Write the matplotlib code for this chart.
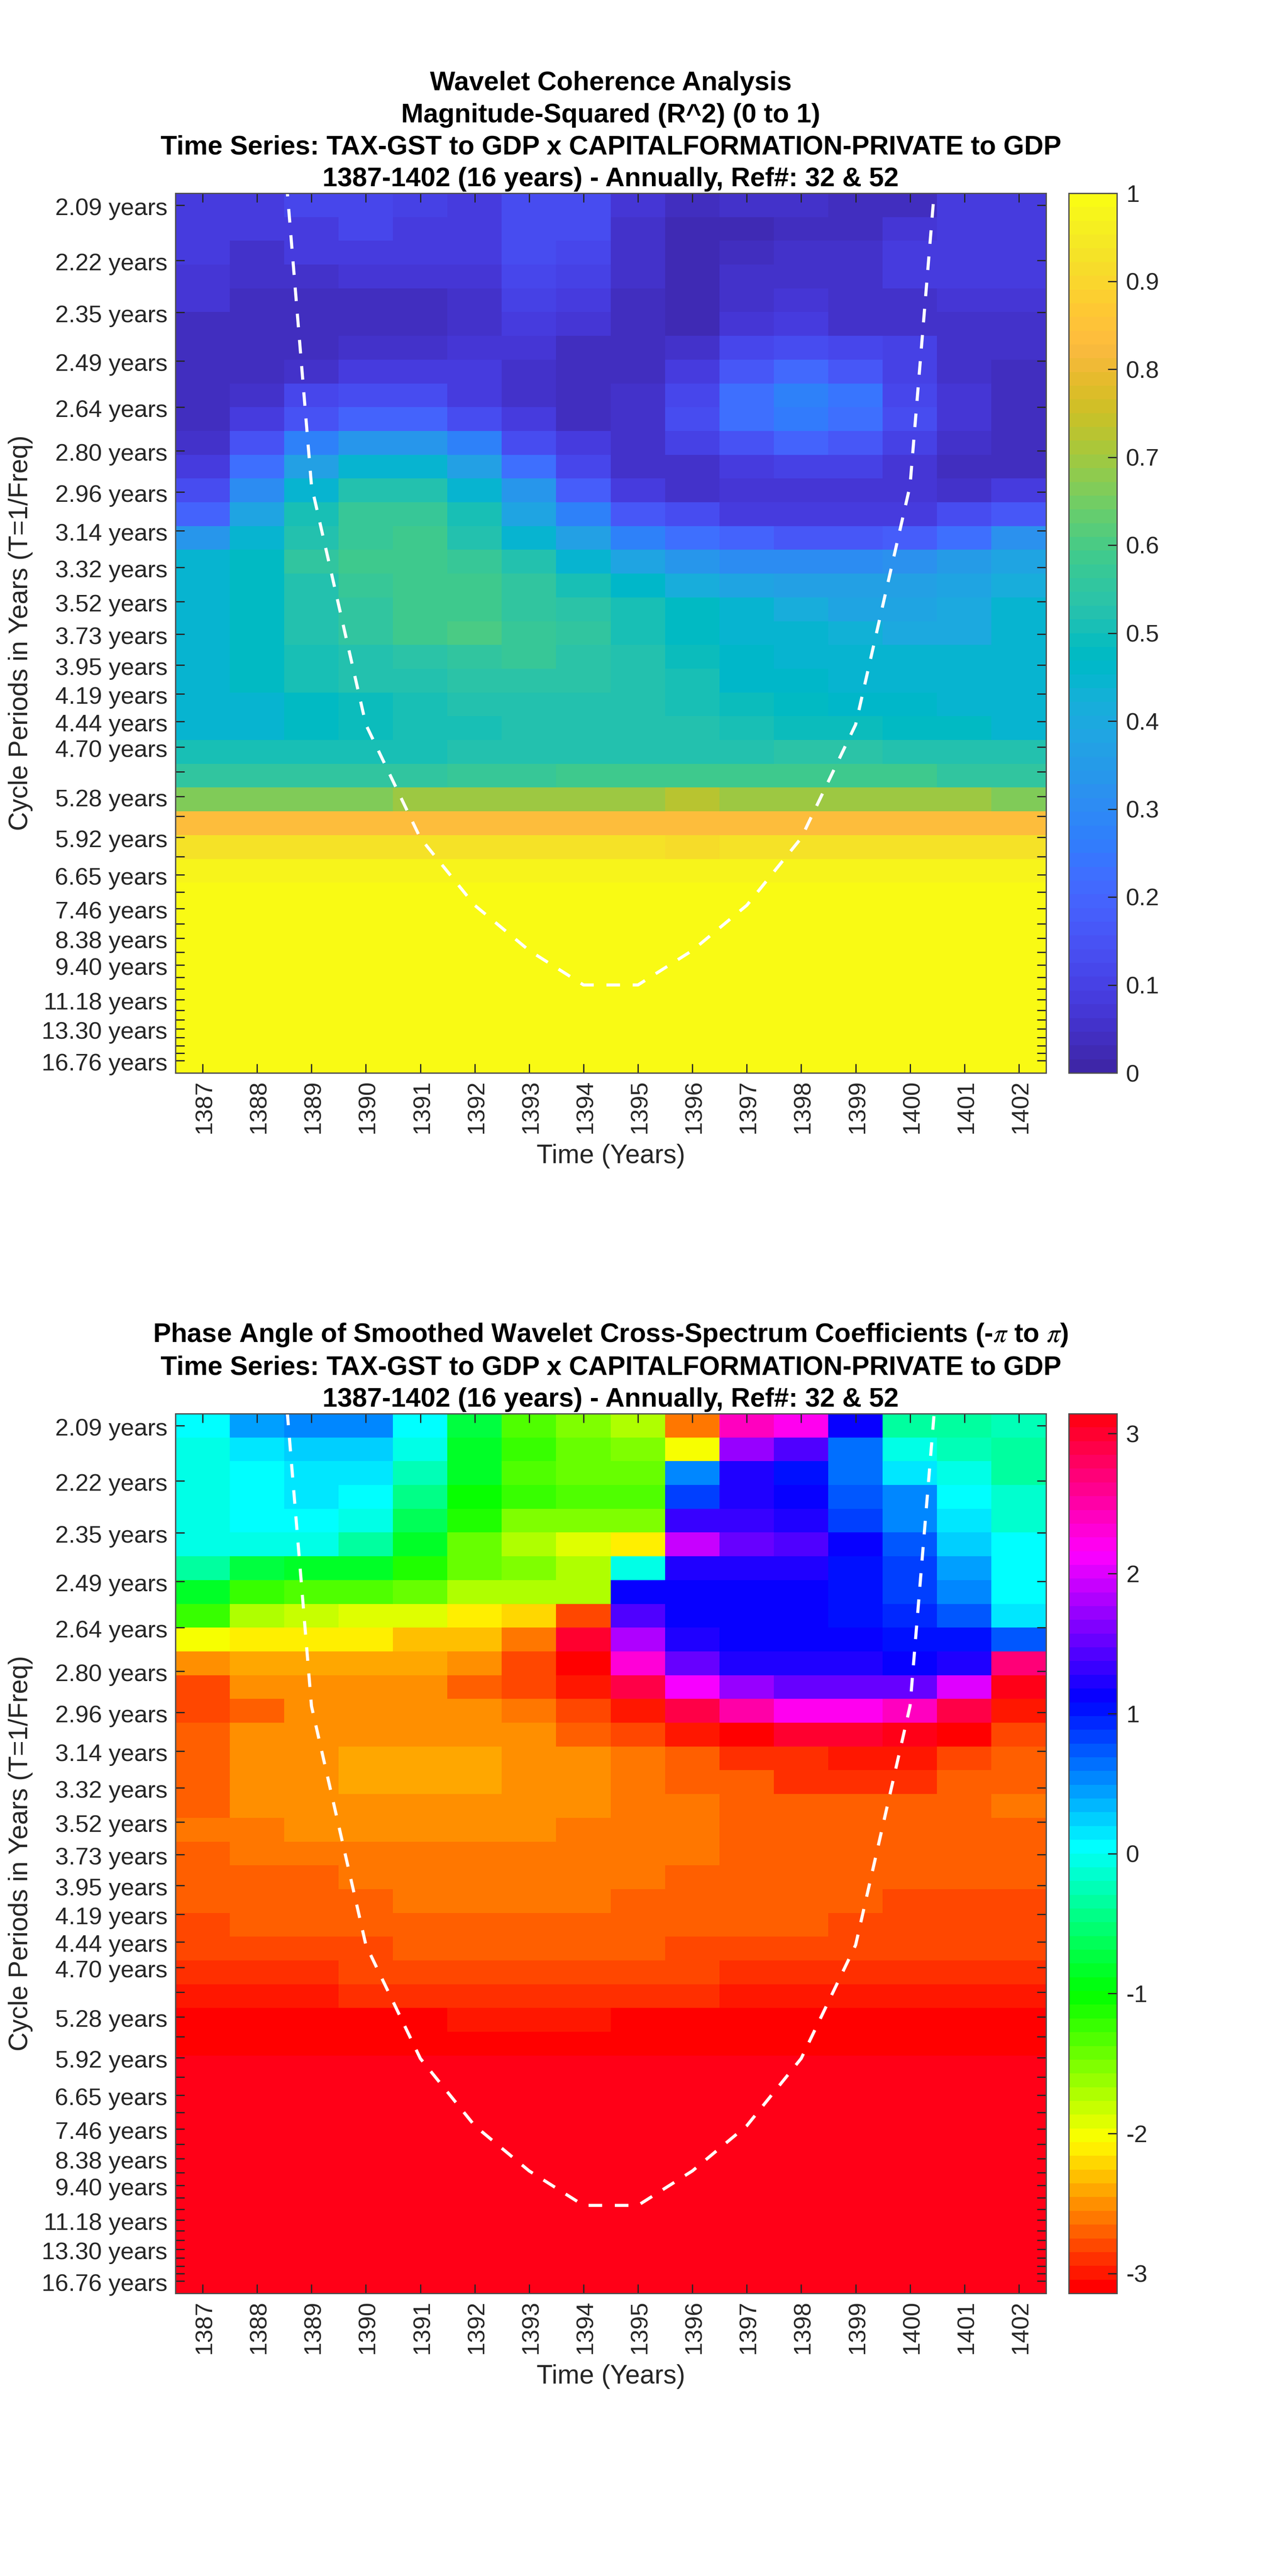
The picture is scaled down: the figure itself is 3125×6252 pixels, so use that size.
import colorsys
import numpy as np
import matplotlib
matplotlib.use("Agg")
import matplotlib.pyplot as plt
from matplotlib.colors import ListedColormap
from matplotlib.transforms import ScaledTranslation

plt.rcParams['font.family'] = ['Liberation Sans', 'DejaVu Sans']
plt.rcParams['mathtext.fontset'] = 'stix'

years = list(range(1387, 1403))

period_ticks = [0.51, 2.83, 5.0, 7.06, 8.99, 10.84, 12.57, 14.2, 15.73, 17.18, 18.54, 19.84, 21.06, 22.22,
                23.3, 24.33, 25.37, 26.2, 27.08, 27.9, 28.67, 29.4, 30.08, 30.73, 31.34, 31.92, 32.46,
                32.98, 33.46, 33.92, 34.36, 34.76, 35.14, 35.51, 35.85, 36.17, 36.48]
period_labels = ['2.09 years', '2.22 years', '2.35 years', '2.49 years', '2.64 years', '2.80 years', '2.96 years',
                 '3.14 years', '3.32 years', '3.52 years', '3.73 years', '3.95 years', '4.19 years', '4.44 years',
                 '4.70 years', '', '5.28 years', '', '5.92 years', '', '6.65 years', '', '7.46 years', '',
                 '8.38 years', '', '9.40 years', '', '', '11.18 years', '', '', '13.30 years', '', '', '',
                 '16.76 years']

coi_years = [1388, 1389, 1390, 1391, 1392, 1393, 1394, 1395, 1396, 1397, 1398, 1399, 1400, 1401]
coi_rows = [-15.5, 12.3, 22.35, 27.12, 29.95, 31.85, 33.3, 33.3, 31.85, 29.95, 27.12, 22.35, 12.3, -15.5]

coherence = [
    [.09, .09, .11, .11, .10, .09, .13, .14, .07, .04, .05, .05, .035, .035, .09, .09],
    [.08, .08, .09, .11, .09, .09, .13, .13, .06, .03, .03, .04, .04, .07, .09, .09],
    [.08, .06, .08, .08, .08, .08, .13, .11, .06, .03, .045, .05, .05, .08, .09, .09],
    [.07, .05, .05, .07, .07, .07, .11, .10, .05, .03, .05, .06, .06, .08, .08, .08],
    [.07, .04, .04, .04, .04, .06, .10, .08, .04, .03, .05, .07, .06, .06, .07, .07],
    [.04, .04, .04, .04, .04, .06, .09, .07, .04, .03, .07, .08, .06, .05, .05, .05],
    [.035, .035, .04, .05, .06, .07, .07, .045, .035, .06, .12, .13, .12, .10, .06, .06],
    [.035, .045, .06, .09, .09, .085, .055, .035, .035, .08, .16, .21, .16, .10, .06, .045],
    [.035, .055, .11, .13, .13, .08, .06, .035, .05, .12, .22, .28, .24, .12, .07, .035],
    [.035, .09, .15, .20, .19, .14, .09, .04, .05, .14, .23, .26, .23, .13, .07, .035],
    [.06, .15, .27, .33, .33, .27, .14, .08, .06, .10, .15, .19, .16, .10, .06, .04],
    [.09, .23, .37, .45, .45, .36, .23, .12, .06, .06, .08, .10, .10, .07, .04, .04],
    [.13, .31, .45, .52, .52, .45, .33, .18, .09, .06, .07, .07, .07, .07, .06, .08],
    [.20, .39, .51, .57, .57, .50, .39, .27, .17, .13, .09, .09, .09, .09, .13, .17],
    [.34, .44, .53, .57, .59, .53, .45, .37, .28, .23, .19, .17, .17, .18, .22, .32],
    [.45, .47, .55, .58, .59, .57, .52, .44, .38, .34, .31, .30, .30, .32, .35, .39],
    [.44, .47, .53, .57, .59, .59, .55, .50, .46, .41, .39, .37, .37, .36, .39, .41],
    [.45, .47, .53, .55, .59, .59, .56, .54, .50, .47, .44, .41, .39, .39, .40, .44],
    [.45, .47, .53, .55, .58, .60, .57, .55, .50, .47, .45, .44, .43, .40, .40, .44],
    [.45, .48, .50, .52, .54, .56, .57, .54, .52, .49, .46, .44, .44, .44, .44, .44],
    [.45, .48, .50, .52, .52, .54, .54, .54, .52, .51, .46, .46, .45, .45, .45, .45],
    [.44, .45, .47, .49, .51, .52, .52, .52, .52, .51, .49, .47, .46, .46, .44, .44],
    [.44, .45, .47, .49, .50, .50, .52, .52, .52, .52, .51, .49, .49, .47, .47, .45],
    [.51, .51, .51, .51, .51, .52, .52, .53, .53, .53, .53, .54, .54, .53, .52, .52],
    [.55, .55, .55, .56, .56, .57, .57, .58, .58, .58, .58, .58, .58, .58, .56, .56],
    [.67, .67, .67, .67, .69, .69, .69, .69, .69, .72, .69, .69, .69, .69, .69, .67],
    [.83, .84, .84, .84, .84, .84, .84, .84, .84, .84, .84, .84, .84, .84, .84, .83],
    [.93, .93, .93, .93, .93, .93, .93, .93, .93, .92, .93, .93, .93, .93, .93, .93],
    [.97, .97, .97, .97, .97, .97, .97, .97, .97, .97, .97, .97, .97, .97, .97, .97],
    [.995] * 16, [.995] * 16, [.995] * 16, [.995] * 16, [.995] * 16, [.995] * 16, [.995] * 16, [.995] * 16,
]

phase = [
    [0.0, .42, .5, .5, 0.0, -.75, -1.34, -1.57, -1.76, -2.64, 2.45, 2.2, 1.13, -.38, -.38, -.25],
    [-.05, .13, .25, .25, -.07, -.8, -1.25, -1.45, -1.57, -2.0, 1.75, 1.38, .6, -.07, -.2, -.3],
    [-.05, .02, .12, .12, -.2, -.85, -1.3, -1.4, -1.4, .5, 1.25, 1.05, .6, .13, -.08, -.3],
    [-.05, 0.0, .12, 0.0, -.4, -1.05, -1.25, -1.35, -1.3, .85, 1.2, 1.13, .78, .5, 0.0, -.12],
    [-.05, 0.0, .02, -.07, -.65, -1.15, -1.57, -1.57, -1.57, 1.3, 1.3, 1.25, .85, .55, .1, -.12],
    [-.05, -.05, -.07, -.3, -.85, -1.45, -1.76, -1.88, -2.15, 1.88, 1.55, 1.45, 1.17, .7, .25, 0.0],
    [-.38, -.7, -.8, -.85, -1.15, -1.4, -1.57, -1.68, -.08, 1.27, 1.27, 1.22, 1.05, .82, .45, 0.0],
    [-.8, -1.2, -1.35, -1.35, -1.45, -1.68, -1.68, -1.68, 1.13, 1.15, 1.15, 1.1, 1.05, .88, .5, 0.0],
    [-1.25, -1.68, -1.8, -1.92, -1.92, -2.09, -2.2, -2.75, 1.45, 1.15, 1.15, 1.12, 1.05, .95, .7, .13],
    [-2.0, -2.15, -2.15, -2.15, -2.3, -2.35, -2.64, 3.0, 1.8, 1.25, 1.17, 1.1, 1.1, 1.05, 1.05, .72],
    [-2.5, -2.45, -2.45, -2.45, -2.45, -2.5, -2.75, -3.14, 2.3, 1.55, 1.22, 1.2, 1.2, 1.1, 1.27, 2.7],
    [-2.75, -2.5, -2.5, -2.5, -2.5, -2.68, -2.8, -2.95, 2.87, 2.09, 1.75, 1.5, 1.5, 1.55, 1.97, 3.05],
    [-2.8, -2.68, -2.5, -2.5, -2.5, -2.5, -2.62, -2.8, -3.0, 2.92, 2.5, 2.2, 2.2, 2.38, 2.85, -2.95],
    [-2.68, -2.5, -2.5, -2.5, -2.5, -2.5, -2.5, -2.68, -2.75, -2.95, -3.14, 2.95, 2.95, 3.05, -3.05, -2.83],
    [-2.68, -2.5, -2.5, -2.4, -2.4, -2.4, -2.5, -2.5, -2.62, -2.72, -2.93, -2.93, -3.0, -2.95, -2.83, -2.72],
    [-2.68, -2.5, -2.5, -2.4, -2.4, -2.4, -2.5, -2.5, -2.62, -2.72, -2.72, -2.85, -2.85, -2.85, -2.7, -2.7],
    [-2.68, -2.5, -2.5, -2.5, -2.5, -2.5, -2.5, -2.5, -2.62, -2.62, -2.72, -2.72, -2.72, -2.72, -2.72, -2.62],
    [-2.62, -2.62, -2.5, -2.5, -2.5, -2.5, -2.5, -2.62, -2.62, -2.62, -2.72, -2.72, -2.72, -2.72, -2.72, -2.72],
    [-2.72, -2.62, -2.62, -2.62, -2.62, -2.62, -2.62, -2.62, -2.62, -2.62, -2.72, -2.72, -2.72, -2.72, -2.72, -2.72],
    [-2.72, -2.72, -2.72, -2.62, -2.62, -2.62, -2.62, -2.62, -2.62, -2.72, -2.72, -2.72, -2.72, -2.72, -2.72, -2.72],
    [-2.72, -2.72, -2.72, -2.72, -2.62, -2.62, -2.62, -2.62, -2.72, -2.72, -2.72, -2.72, -2.72, -2.8, -2.8, -2.8],
    [-2.8, -2.72, -2.72, -2.72, -2.72, -2.72, -2.72, -2.72, -2.72, -2.72, -2.72, -2.72, -2.8, -2.8, -2.8, -2.8],
    [-2.8, -2.8, -2.8, -2.8, -2.72, -2.72, -2.72, -2.72, -2.72, -2.8, -2.8, -2.8, -2.8, -2.8, -2.8, -2.8],
    [-2.88, -2.88, -2.88, -2.8, -2.8, -2.8, -2.8, -2.8, -2.8, -2.8, -2.88, -2.88, -2.88, -2.88, -2.88, -2.88],
    [-2.96, -2.96, -2.96, -2.88, -2.88, -2.88, -2.88, -2.88, -2.88, -2.88, -2.96, -2.96, -2.96, -2.96, -2.96, -2.96],
    [-3.14, -3.14, -3.14, -3.14, -3.14, -3.03, -3.03, -3.03, -3.14, -3.14, -3.14, -3.14, -3.14, -3.14, -3.14, -3.14],
    [-3.14] * 16,
    [3.05] * 16, [3.05] * 16, [3.05] * 16, [3.05] * 16, [3.05] * 16,
    [3.05] * 16, [3.05] * 16, [3.05] * 16, [3.05] * 16, [3.05] * 16,
]

parula_rgb = [
    (.2422, .1504, .6603), (.2504, .1650, .7076), (.2578, .1818, .7511), (.2647, .1978, .7952),
    (.2706, .2147, .8364), (.2751, .2342, .8710), (.2783, .2559, .8991), (.2803, .2782, .9221),
    (.2813, .3006, .9414), (.2810, .3228, .9579), (.2795, .3447, .9717), (.2760, .3667, .9829),
    (.2699, .3892, .9906), (.2602, .4123, .9952), (.2440, .4358, .9988), (.2206, .4603, .9973),
    (.1963, .4847, .9892), (.1834, .5074, .9798), (.1786, .5289, .9682), (.1764, .5499, .9520),
    (.1687, .5703, .9359), (.1540, .5902, .9218), (.1460, .6091, .9079), (.1380, .6276, .8973),
    (.1248, .6459, .8883), (.1113, .6635, .8763), (.0952, .6798, .8598), (.0689, .6948, .8394),
    (.0297, .7082, .8163), (.0036, .7203, .7917), (.0067, .7312, .7660), (.0433, .7411, .7394),
    (.0964, .7500, .7120), (.1408, .7584, .6842), (.1717, .7670, .6554), (.1938, .7758, .6251),
    (.2161, .7843, .5923), (.2470, .7918, .5567), (.2906, .7973, .5188), (.3406, .8008, .4789),
    (.3909, .8029, .4354), (.4456, .8024, .3909), (.5044, .7993, .3480), (.5616, .7942, .3045),
    (.6174, .7876, .2612), (.6720, .7793, .2227), (.7242, .7698, .1910), (.7738, .7598, .1646),
    (.8203, .7498, .1535), (.8634, .7406, .1596), (.9035, .7330, .1774), (.9393, .7288, .2100),
    (.9728, .7298, .2394), (.9956, .7434, .2371), (.9970, .7659, .2199), (.9952, .7861, .1989),
    (.9892, .8135, .1885), (.9786, .8386, .1766), (.9676, .8639, .1643), (.9610, .8890, .1537),
    (.9597, .9135, .1423), (.9628, .9373, .1265), (.9691, .9606, .1064), (.9769, .9839, .0805),
]
parula = ListedColormap(parula_rgb)
hsv64 = ListedColormap([colorsys.hsv_to_rgb(i / 64, 1, 1) for i in range(64)])

coherence_title = ("Wavelet Coherence Analysis\nMagnitude-Squared (R^2) (0 to 1)\n"
                   "Time Series: TAX-GST to GDP x CAPITALFORMATION-PRIVATE to GDP\n"
                   "1387-1402 (16 years) - Annually, Ref#: 32 & 52")
phase_title = ("Phase Angle of Smoothed Wavelet Cross-Spectrum Coefficients (-$\\pi$ to $\\pi$)\n"
               "Time Series: TAX-GST to GDP x CAPITALFORMATION-PRIVATE to GDP\n"
               "1387-1402 (16 years) - Annually, Ref#: 32 & 52")

W, H = 3125, 6252
DARK = (0.15, 0.15, 0.15)
TICK_FS = 42
LABEL_FS = 46
TITLE_FS = 46.7
LW = 2.2
TICK_LEN = 15.5

fig = plt.figure(figsize=(W / 100, H / 100), dpi=100, facecolor='white')


def panel(top_px, data, cmap, vmin, vmax, title, cticks, cticklabels):
    left, right, height = 426, 2540, 2135
    ax = fig.add_axes([left / W, 1 - (top_px + height) / H, (right - left) / W, height / H])
    im = ax.imshow(np.array(data), aspect='auto', cmap=cmap, vmin=vmin, vmax=vmax, interpolation='nearest',
                   extent=(years[0] - .5, years[-1] + .5, 37, 0))
    ax.plot(coi_years, coi_rows, color='white', lw=5.4, dashes=(4.4, 4.1), dash_capstyle='butt',
            dash_joinstyle='round')
    ax.set_xlim(years[0] - .5, years[-1] + .5)
    ax.set_ylim(37, 0)
    ax.set_xticks(years)
    ax.set_xticklabels([str(y) for y in years], rotation=90, fontsize=TICK_FS, color=DARK)
    ax.set_yticks(period_ticks)
    ax.set_yticklabels(period_labels, fontsize=TICK_FS, color=DARK)
    ax.tick_params(axis='both', direction='in', length=TICK_LEN, width=LW, color=DARK, top=True, right=True)
    ax.tick_params(axis='x', pad=12.4)
    ax.tick_params(axis='y', pad=14)
    for lab in ax.get_yticklabels():
        lab.set_transform(lab.get_transform() + ScaledTranslation(0, -3 / 100, fig.dpi_scale_trans))
    for lab in ax.get_xticklabels():
        lab.set_transform(lab.get_transform() + ScaledTranslation(5 / 100, 0, fig.dpi_scale_trans))
    for s in ax.spines.values():
        s.set_linewidth(LW)
        s.set_color((.3, .3, .3))
    ax.set_xlabel('Time (Years)', fontsize=LABEL_FS, color=DARK, va='center')
    ax.xaxis.set_label_coords(.5, -.0946)
    ax.set_ylabel('Cycle Periods in Years (T=1/Freq)', fontsize=LABEL_FS, color=DARK, va='center')
    ax.yaxis.set_label_coords(-.178, .5)
    ax.set_title(title, fontsize=TITLE_FS, fontweight='bold', color='black', linespacing=1.37, pad=12.5)

    cax = fig.add_axes([2595 / W, 1 - (top_px + height) / H, (2712 - 2595) / W, height / H])
    cb = fig.colorbar(im, cax=cax)
    cb.set_ticks(cticks)
    cb.set_ticklabels(cticklabels)
    cax.tick_params(direction='in', length=TICK_LEN, width=LW, color=DARK, labelsize=TICK_FS, labelcolor=DARK, pad=16)
    cb.outline.set_linewidth(LW)
    cb.outline.set_edgecolor((.3, .3, .3))


panel(469, coherence, parula, 0, 1, coherence_title,
      [0, .1, .2, .3, .4, .5, .6, .7, .8, .9, 1],
      ['0', '0.1', '0.2', '0.3', '0.4', '0.5', '0.6', '0.7', '0.8', '0.9', '1'])
panel(3431, phase, hsv64, -np.pi, np.pi, phase_title,
      [-3, -2, -1, 0, 1, 2, 3], ['-3', '-2', '-1', '0', '1', '2', '3'])

fig.savefig('out.png', dpi=100, facecolor='white')
